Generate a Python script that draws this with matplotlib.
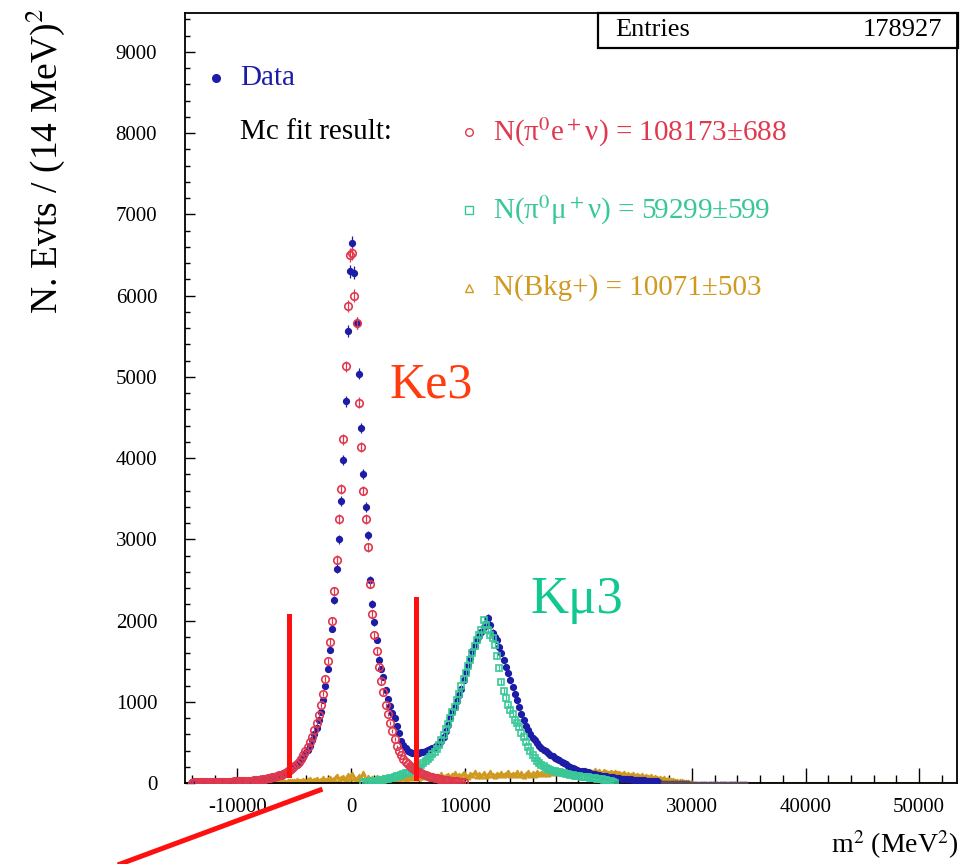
import numpy as np
import matplotlib
matplotlib.use("Agg")
from matplotlib import pyplot as plt
from matplotlib.lines import Line2D
from matplotlib.patches import Rectangle
from matplotlib.ticker import MultipleLocator

plt.rcParams["font.family"] = ["Liberation Serif", "DejaVu Serif"]
plt.rcParams["mathtext.fontset"] = "stix"
plt.rcParams["axes.unicode_minus"] = False

# bins of 196 MeV^2 (14 MeV squared), centres at 98 + 196*k
binWidth = 196
dataStart = -72
ke3Start = -72
kmu3Start = 5
bkgStart = -72

data = [
    8, 12, 10, 14, 9, 11, 15, 12, 13, 10,
    14, 12, 16, 13, 15, 18, 14, 17, 16, 19,
    20, 21, 23, 24, 26, 27, 29, 31, 34, 37,
    40, 44, 49, 55, 62, 70, 76, 82, 89, 96,
    100, 112, 125, 142, 160, 178, 198, 222, 250, 285,
    324, 365, 410, 460, 525, 600, 680, 770, 880, 1020,
    1200, 1400, 1640, 1900, 2250, 2640, 3000, 3470, 3980, 4700,
    5560, 6300, 6650, 6280, 5660, 5040, 4370, 3810, 3400, 3050,
    2500, 2200, 1980, 1760, 1520, 1400, 1300, 1150, 1040, 950,
    860, 800, 700, 610, 520, 470, 430, 400, 385, 372,
    365, 362, 370, 378, 386, 395, 405, 420, 432, 447,
    465, 485, 520, 570, 640, 720, 800, 870, 935, 1010,
    1080, 1160, 1265, 1370, 1450, 1535, 1620, 1690, 1760, 1810,
    1860, 1920, 1960, 2030, 1950, 1850, 1800, 1760, 1670, 1600,
    1515, 1430, 1350, 1268, 1180, 1100, 1020, 935, 850, 775,
    700, 650, 600, 560, 525, 490, 460, 435, 410, 390,
    370, 350, 330, 312, 300, 280, 262, 245, 228, 210,
    195, 180, 168, 160, 152, 148, 143, 140, 134, 125,
    115, 108, 102, 98, 92, 88, 82, 78, 73, 70,
    66, 62, 58, 55, 52, 49, 46, 44, 41, 39,
    37, 35, 33, 31, 29, 27, 26, 24, 22, 21,
    20, 18, 17, 16, 15, 14, 12, 11, 10, 9,
    9, 8, 7, 7, 6, 6, 5, 6, 5, 4,
    5, 4, 4, 3, 4, 3, 3, 4, 2, 3,
    3, 2, 3, 2, 2, 3, 2, 2, 1, 2,
]

ke3 = [
    6, 10, 8, 12, 9, 11, 13, 10, 14, 12,
    13, 15, 12, 16, 14, 17, 16, 18, 17, 20,
    21, 20, 23, 25, 24, 27, 29, 30, 33, 36,
    40, 43, 48, 54, 60, 66, 72, 80, 88, 96,
    104, 116, 128, 145, 165, 185, 205, 230, 260, 295,
    345, 390, 440, 500, 570, 650, 740, 840, 960, 1100,
    1280, 1500, 1740, 2000, 2360, 2750, 3250, 3620, 4230, 5130,
    5870, 6500, 6520, 6000, 5660, 4680, 4140, 3600, 3250, 2900,
    2450, 2080, 1820, 1620, 1430, 1260, 1120, 960, 850, 740,
    640, 540, 450, 390, 340, 300, 262, 230, 205, 182,
    162, 146, 132, 120, 108, 97, 88, 80, 72, 64,
    57, 51, 46, 41, 37, 33, 29, 26, 23, 20,
    18, 15, 13,
]

kmu3 = [
    10, 12, 15, 18, 22, 26, 30, 34, 38, 42,
    48, 54, 60, 66, 74, 82, 90, 98, 108, 118,
    128, 140, 155, 168, 181, 200, 220, 242, 268, 295,
    325, 352, 380, 420, 470, 530, 590, 660, 730, 800,
    870, 940, 1020, 1100, 1190, 1280, 1360, 1440, 1515, 1600,
    1690, 1760, 1820, 1880, 2007, 1950, 1880, 1820, 1780, 1700,
    1560, 1420, 1240, 1130, 1050, 960, 900, 850, 780, 740,
    690, 620, 565, 500, 440, 390, 340, 305, 275, 250,
    225, 205, 188, 175, 160, 150, 142, 136, 130, 124,
    118, 112, 106, 100, 96, 92, 88, 84, 80, 76,
    72, 68, 64, 60, 56, 52, 48, 44, 40, 35,
    30, 20, 10, 4,
]

bkg = [
    5, 8, 3, 10, 6, 12, 4, 9, 7, 11,
    6, 14, 8, 5, 12, 9, 15, 7, 10, 13,
    9, 16, 11, 8, 18, 12, 10, 20, 14, 9,
    17, 12, 22, 15, 11, 25, 16, 20, 13, 24,
    18, 28, 14, 22, 30, 19, 26, 35, 21, 29,
    38, 24, 32, 45, 27, 36, 52, 30, 41, 58,
    34, 47, 62, 39, 55, 90, 42, 60, 75, 48,
    95, 58, 110, 66, 52, 85, 60, 120, 55, 70,
    48, 65, 40, 72, 58, 45, 80, 52, 66, 44,
    70, 55, 62, 48, 75, 60, 52, 88, 58, 70,
    64, 95, 60, 78, 110, 68, 85, 72, 100, 66,
    90, 75, 115, 70, 88, 102, 76, 95, 120, 82,
    98, 85, 125, 90, 78, 110, 95, 130, 88, 105,
    92, 118, 84, 100, 135, 96, 88, 112, 100, 125,
    94, 108, 140, 98, 115, 104, 130, 100, 118, 92,
    110, 135, 102, 120, 96, 140, 108, 125, 115, 150,
    112, 130, 120, 145, 118, 135, 155, 125, 140, 130,
    150, 128, 142, 160, 135, 148, 138, 155, 130, 145,
    140, 158, 132, 150, 128, 145, 135, 120, 140, 125,
    132, 118, 128, 110, 125, 104, 115, 98, 110, 92,
    100, 86, 95, 80, 88, 72, 82, 66, 74, 58,
    64, 50, 56, 42, 48, 34, 38, 26, 30, 20,
    22, 14, 16, 8, 10,
]

entries = "178927"
fitLabels = ["N(π$^0$e$^+$ν) = 108173±688",
             "N(π$^0$μ$^+$ν) = 59299±599",
             "N(Bkg+) = 10071±503"]
cutLow, cutHigh = -5500, 5700

def centres(start, n):
    return binWidth / 2 + binWidth * (start + np.arange(n))

dataX = centres(dataStart, len(data))
ke3X = centres(ke3Start, len(ke3))
kmu3X = centres(kmu3Start, len(kmu3))
bkgX = centres(bkgStart, len(bkg))

blue = "#1c1ca6"
red = "#e0384e"
green = "#38c898"
orange = "#d09a20"

W, H = 960, 864
fig = plt.figure(figsize=(W / 100, H / 100), dpi=100)

def fp(x, y):
    return x / W, 1 - y / H

ax = fig.add_axes([185 / W, 1 - 783 / H, (957 - 185) / W, (783 - 13) / H])
ax.set_xlim(-14620, 53330)
ax.set_ylim(0, 9480)

dataArr = np.array(data, float)
ke3Arr = np.array(ke3, float)
kmu3Arr = np.array(kmu3, float)
bkgArr = np.array(bkg, float)

# far tail of the data sits on the axis as tiny grey dots
tail = (dataX > 27000)
main = ~tail

ax.axhline(0, color="#b0a040", lw=2.2, zorder=1)
ax.plot(bkgX, bkgArr, color=orange, lw=1.6, marker="^", ms=3.4, zorder=2)
ax.plot(dataX[tail], dataArr[tail], "o", ms=1.8, color="#5a4a5a", zorder=3)
ax.errorbar(dataX[main], dataArr[main], yerr=np.sqrt(dataArr[main]), fmt="o", ms=4.2, color=blue,
            elinewidth=0.9, capsize=0, zorder=3)
ax.errorbar(kmu3X, kmu3Arr, yerr=np.sqrt(kmu3Arr), fmt="s", ms=4.8, mfc="none",
            mec=green, mew=1.2, ecolor=green, elinewidth=0.9, capsize=0, zorder=4)
ax.errorbar(ke3X, ke3Arr, yerr=np.sqrt(ke3Arr), fmt="o", ms=5.4, mfc="none",
            mec=red, mew=1.2, ecolor=red, elinewidth=0.9, capsize=0, zorder=5)

# cut lines drawn by hand on the original
ax.plot([cutLow, cutLow], [100, 2050], color="#ff1010", lw=3.6, zorder=6, clip_on=False)
ax.plot([cutHigh, cutHigh], [60, 2260], color="#ff1010", lw=3.6, zorder=6, clip_on=False)
ax.plot([-20330, -2730], [-998, -86], color="#ff1010", lw=3.6, zorder=6, clip_on=False)

ax.text(7040, 4900, "Ke3", color="#ff3c10", fontsize=36, ha="center", va="center")
ax.text(19900, 2250, "Kμ3", color="#10c890", fontsize=38, ha="center", va="center")

ax.xaxis.set_major_locator(MultipleLocator(10000))
ax.xaxis.set_minor_locator(MultipleLocator(2000))
ax.yaxis.set_major_locator(MultipleLocator(1000))
ax.yaxis.set_minor_locator(MultipleLocator(200))
ax.tick_params(axis="x", which="major", direction="in", length=11, width=1, labelsize=15, pad=11)
ax.tick_params(axis="x", which="minor", direction="in", length=6, width=1)
ax.tick_params(axis="y", which="major", direction="in", length=7, width=1, labelsize=15, pad=20)
ax.tick_params(axis="y", which="minor", direction="in", length=3.5, width=1)
for s in ax.spines.values():
    s.set_linewidth(1.3)

# titles
fig.text(*fp(45, 8), "N. Evts / (14 MeV)$^2$", rotation=90, ha="center", va="top", fontsize=27)
fig.text(*fp(958, 845), "m$^2$ (MeV$^2$)", ha="right", va="center", fontsize=20)

# stats box
bx0, by0 = fp(598, 48)
fig.add_artist(Rectangle((bx0, by0), (958 - 598) / W, 35 / H, transform=fig.transFigure,
                         fill=False, lw=1.6, color="black"))
fig.text(*fp(615, 30), "Entries", ha="left", va="center", fontsize=19)
fig.text(*fp(942, 30), entries, ha="right", va="center", fontsize=19)

# legend
fig.add_artist(Line2D([216 / W], [1 - 78 / H], marker="o", ms=5.5, color=blue, transform=fig.transFigure))
fig.text(*fp(240, 78), "Data", color=blue, ha="left", va="center", fontsize=21)
fig.text(*fp(240, 132), "Mc fit result:", color="black", ha="left", va="center", fontsize=21)
legendRows = [(132, "o", red), (210, "s", green), (288, "^", orange)]
for (yy, mk, col), lab in zip(legendRows, fitLabels):
    fig.add_artist(Line2D([469 / W], [1 - yy / H], marker=mk, ms=5.5, mfc="none", mec=col, mew=1.0,
                          transform=fig.transFigure))
    fig.text(*fp(493, yy), lab, color=col, ha="left", va="center", fontsize=21)

fig.savefig("out.png", dpi=100)
